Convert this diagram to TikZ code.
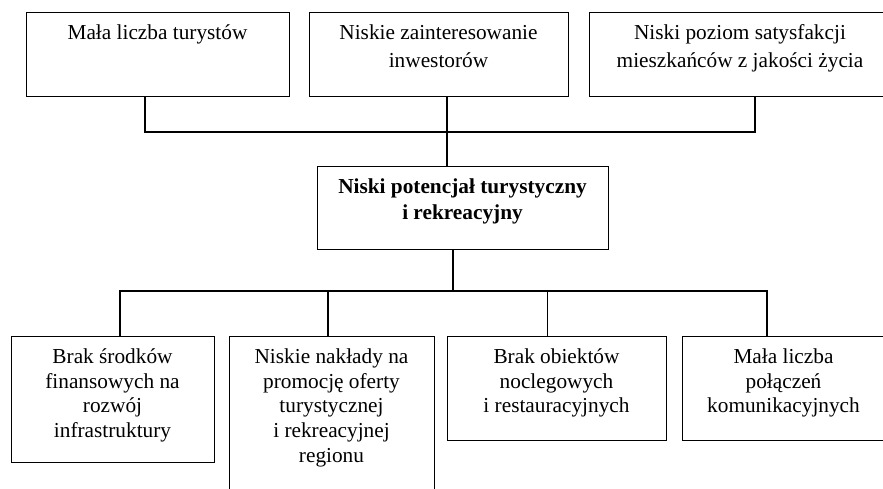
\documentclass[tikz,border=0pt]{standalone}
\usepackage{fontspec}
\setmainfont{Liberation Serif}
\begin{document}
\begin{tikzpicture}[x=1pt,y=-1pt,
  box/.style={draw,line width=1.1pt,inner sep=0pt,anchor=north west},
  txt/.style={anchor=north,inner sep=0pt,align=center,font=\fontsize{21.3}{26}\selectfont},
  toptxt/.style={txt,font=\fontsize{21.3}{27.5}\selectfont},
  bottxt/.style={txt,font=\fontsize{21.3}{24.8}\selectfont},
  conn/.style={line width=1.1pt}]
\useasboundingbox (0,0) rectangle (883,488);
\begin{scope}
\clip (0,0) rectangle (883,488);
% top boxes
\node[box,minimum width=263pt,minimum height=84pt] (t1) at (26,12) {};
\node[box,minimum width=259pt,minimum height=84pt] (t2) at (309,12) {};
\node[box,minimum width=302pt,minimum height=84pt] (t3) at (589,12) {};
\node[toptxt] (t1t) at (157.5,24.5) {\rule{0pt}{15pt}Mała liczba turystów};
\node[toptxt] (t2t) at (438.5,24.5) {\rule{0pt}{15pt}Niskie zainteresowanie\\inwestorów};
\node[toptxt] (t3t) at (740,24.5) {\rule{0pt}{15pt}Niski poziom satysfakcji\\mieszkańców z jakości życia};
% central box
\node[box,minimum width=291pt,minimum height=83pt] (c) at (317,166) {};
\node[txt] (ct) at (462.5,178) {\bfseries\rule{0pt}{15pt}Niski potencjał turystyczny\\\bfseries i rekreacyjny};
% bottom boxes
\node[box,minimum width=203pt,minimum height=126pt] (b1) at (11,336) {};
\node[box,minimum width=205pt,minimum height=200pt] (b2) at (229,336) {};
\node[box,minimum width=219pt,minimum height=104pt] (b3) at (447,336) {};
\node[box,minimum width=203pt,minimum height=104pt] (b4) at (682,336) {};
\node[bottxt] (b1t) at (112.5,348) {\rule{0pt}{15pt}Brak środków\\finansowych na\\rozwój\\infrastruktury};
\node[bottxt] (b2t) at (331.5,348) {\rule{0pt}{15pt}Niskie nakłady na\\promocję oferty\\turystycznej\\i rekreacyjnej\\regionu};
\node[bottxt] (b3t) at (556.5,348) {\rule{0pt}{15pt}Brak obiektów\\noclegowych\\i restauracyjnych};
\node[bottxt] (b4t) at (783.5,348) {\rule{0pt}{15pt}Mała liczba\\połączeń\\komunikacyjnych};
% top connectors
\coordinate (j1) at (145,132);
\coordinate (j3) at (755,132);
\coordinate (x2) at (447,0);
\draw[conn] (t1.south -| j1) -- (j1) -- (j3) -- (t3.south -| j3);
\draw[conn] (t2.south -| x2) -- (c.north -| x2);
% bottom connectors
\coordinate (h) at (453,291);
\coordinate (hl) at (120,291);
\coordinate (hr) at (767,291);
\coordinate (d2) at (328,291);
\coordinate (d3) at (547.5,291);
\draw[conn] (c.south -| h) -- (h);
\draw[conn] (b1.north -| hl) -- (hl) -- (hr) -- (b4.north -| hr);
\draw[conn] (d2) -- (b2.north -| d2);
\draw[conn] (d3) -- (b3.north -| d3);
\end{scope}
\end{tikzpicture}
\end{document}
